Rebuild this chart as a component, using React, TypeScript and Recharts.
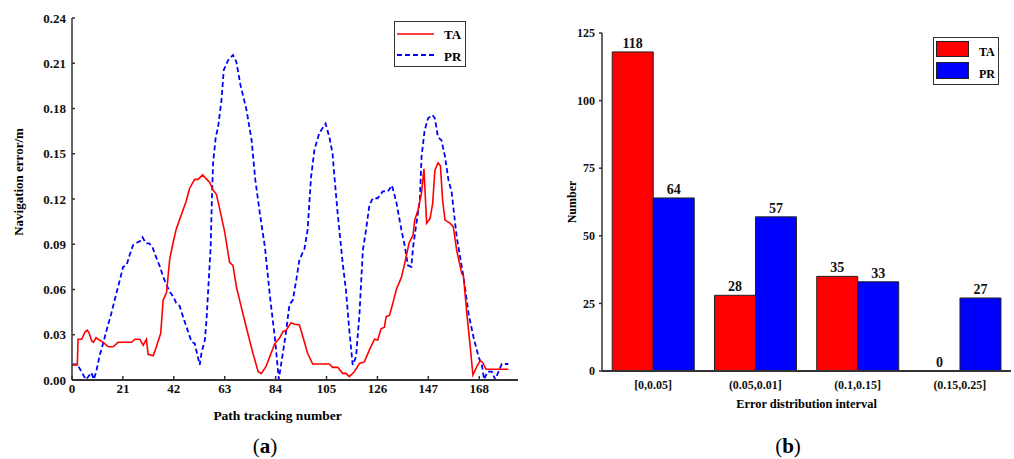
import React from 'react';
import { LineChart, Line, XAxis, YAxis, BarChart, Bar, LabelList } from 'recharts';

const taSteps = [0, 2.2, 2.5, 4, 5.4, 6.3, 7.1, 8.1, 8.8, 9.9, 10.8, 12.9, 15, 17, 19, 24.6, 26, 28, 29.4, 30, 30.7, 31.4, 33.5, 34.8, 36.6, 37.6, 39, 40.3, 41.7, 43, 45, 47, 48.5, 50.6, 52, 53.9, 56.8, 58.2, 59.6, 61, 63, 65, 66.4, 67.8, 69.9, 71.9, 74.6, 76.8, 78.1, 80, 81.5, 83.6, 85.7, 87, 88.4, 90.4, 91.8, 93.8, 95.2, 97.2, 99.3, 106.2, 107.5, 109.6, 111.7, 113, 114.4, 116.5, 118.6, 120.6, 122.7, 124.8, 126.1, 127.5, 128.9, 129.6, 131, 132.4, 133.8, 135.9, 137.2, 139.1, 140.7, 141.4, 142.8, 144.2, 145.2, 146.3, 147.7, 148.8, 149.7, 151, 152, 152.9, 153.9, 155.9, 157.3, 158.7, 160.8, 161.5, 162.9, 164.3, 165.4, 167, 168.4, 169.5, 170.8, 180];
const taError = [0.010, 0.010, 0.027, 0.027, 0.032, 0.033, 0.031, 0.026, 0.025, 0.028, 0.027, 0.025, 0.022, 0.022, 0.025, 0.025, 0.027, 0.027, 0.023, 0.025, 0.027, 0.017, 0.016, 0.022, 0.031, 0.053, 0.058, 0.080, 0.091, 0.100, 0.109, 0.118, 0.127, 0.133, 0.133, 0.136, 0.131, 0.126, 0.123, 0.113, 0.098, 0.078, 0.076, 0.062, 0.048, 0.035, 0.018, 0.0055, 0.0044, 0.0088, 0.015, 0.024, 0.028, 0.032, 0.033, 0.038, 0.037, 0.0365, 0.029, 0.0177, 0.0106, 0.0106, 0.0084, 0.0084, 0.0044, 0.0044, 0.0022, 0.0055, 0.011, 0.012, 0.020, 0.027, 0.0265, 0.034, 0.035, 0.042, 0.043, 0.051, 0.060, 0.068, 0.077, 0.091, 0.096, 0.106, 0.113, 0.124, 0.140, 0.104, 0.107, 0.117, 0.139, 0.144, 0.142, 0.119, 0.106, 0.104, 0.1017, 0.086, 0.0707, 0.069, 0.044, 0.022, 0.0033, 0.0088, 0.0128, 0.0115, 0.0071, 0.0071];

const prSteps = [0, 2.2, 3.9, 5.7, 6.6, 8, 9, 10, 11.3, 12.8, 14.1, 16.2, 18.3, 19.7, 21.1, 22.5, 23.8, 25.2, 26.6, 28, 29.1, 30.5, 31.9, 33.2, 34.9, 36.3, 37.6, 39, 40.3, 41.7, 43, 44.4, 45.8, 47.2, 49.3, 50.6, 52.7, 53.4, 54.8, 55.5, 56.2, 57.2, 57.7, 58.2, 59.3, 60.3, 61.7, 62.6, 64.4, 66.4, 67.8, 69.5, 72, 74.1, 75.6, 77.5, 79.6, 81.7, 83.8, 85.3, 87, 88.4, 89.7, 91.1, 92.5, 93.8, 95.9, 97.2, 98.6, 100, 102, 104.6, 106.2, 107.5, 108.2, 109.6, 111.7, 113, 114.4, 115.8, 117.2, 118.6, 120, 121.3, 122.7, 124.1, 126.1, 128.2, 130.3, 132, 133.8, 135.9, 137.2, 138.6, 140, 140.7, 142.1, 143.5, 144.2, 145.5, 146.9, 148.7, 149.7, 151, 152.4, 153.9, 155.3, 156.6, 158.7, 161.5, 163.6, 165.6, 167.7, 169.1, 170, 171.4, 173.2, 174.6, 176, 177.3, 180];
const prError = [0.0104, 0.0104, 0.0055, 0.0004, 0.002, 0.0049, 0.0004, 0.0055, 0.0155, 0.024, 0.032, 0.044, 0.0575, 0.066, 0.075, 0.076, 0.083, 0.0895, 0.091, 0.092, 0.0946, 0.0906, 0.0906, 0.088, 0.0806, 0.075, 0.0685, 0.063, 0.0585, 0.0555, 0.051, 0.049, 0.042, 0.0353, 0.0254, 0.0243, 0.010, 0.0177, 0.0265, 0.040, 0.060, 0.088, 0.119, 0.1437, 0.161, 0.168, 0.186, 0.2055, 0.212, 0.2155, 0.211, 0.1956, 0.179, 0.159, 0.133, 0.1105, 0.088, 0.055, 0.0265, 0.0005, 0.018, 0.033, 0.050, 0.053, 0.066, 0.0796, 0.087, 0.0995, 0.134, 0.1525, 0.1636, 0.170, 0.161, 0.150, 0.136, 0.1105, 0.077, 0.060, 0.033, 0.010, 0.0155, 0.044, 0.086, 0.0995, 0.116, 0.1205, 0.1205, 0.125, 0.125, 0.129, 0.118, 0.0995, 0.0895, 0.076, 0.075, 0.088, 0.104, 0.119, 0.148, 0.1657, 0.1735, 0.1757, 0.1735, 0.161, 0.159, 0.148, 0.1326, 0.125, 0.095, 0.0685, 0.044, 0.0287, 0.0155, 0.010, 0.0004, 0.0055, 0.0055, 0.0004, 0.0055, 0.0106, 0.0106];

const xTicks = [0, 21, 42, 63, 84, 105, 126, 147, 168];
const yTicks = [0, 0.03, 0.06, 0.09, 0.12, 0.15, 0.18, 0.21, 0.24];

const intervals = ['[0,0.05]', '(0.05,0.01]', '(0.1,0.15]', '(0.15,0.25]'];
const taCounts = [118, 28, 35, 0];
const prCounts = [64, 57, 33, 27];
const countTicks = [0, 25, 50, 75, 100, 125];

const taData = taSteps.map((s, i) => ({ step: s, value: taError[i] }));
const prData = prSteps.map((s, i) => ({ step: s, value: prError[i] }));
const barData = intervals.map((name, i) => ({ name, TA: taCounts[i], PR: prCounts[i] }));

const FONT = '"Liberation Serif", "Times New Roman", serif';
const AXIS = '#333';

const tickStyle = { fontFamily: FONT, fontWeight: 700, fontSize: 13, fill: '#111' };
const tickStyleB = { fontFamily: FONT, fontWeight: 700, fontSize: 12, fill: '#111' };

const abs = (o: React.CSSProperties): React.CSSProperties => ({ position: 'absolute', ...o });

const renderTopLabel = (props: any) => {
  const { x, y, width, value } = props;
  if (value === undefined || value === null) return null;
  return (
    <text
      x={Number(x) + Number(width) / 2}
      y={Number(y) - 4}
      textAnchor="middle"
      style={{ fontFamily: FONT, fontWeight: 700, fontSize: 14, fill: '#111' }}
    >
      {value}
    </text>
  );
};

const tinyForZero = (value: any) => (Number(value) === 0 ? 0.01 : 0);

export default function App() {
  return (
    <div style={{ position: 'absolute', left: 0, top: 0, width: 1014, height: 459, background: '#fff', fontFamily: FONT, overflow: 'hidden' }}>
      <div style={abs({ left: 0, top: 0 })}>
        <LineChart width={540} height={459} margin={{ top: 18, right: 22, bottom: 49, left: 12 }}>
          <XAxis
            dataKey="step"
            type="number"
            domain={[0, 184]}
            ticks={xTicks}
            allowDataOverflow
            height={30}
            tick={tickStyle}
            tickSize={-4}
            tickMargin={8}
            axisLine={{ stroke: AXIS, strokeWidth: 2 }}
            tickLine={{ stroke: AXIS, strokeWidth: 1.5 }}
          />
          <YAxis
            dataKey="value"
            type="number"
            domain={[0, 0.24]}
            ticks={yTicks}
            allowDataOverflow
            width={60}
            tick={tickStyle}
            tickFormatter={(v: number) => v.toFixed(2)}
            tickSize={-3}
            tickMargin={9}
            axisLine={{ stroke: AXIS, strokeWidth: 1.5 }}
            tickLine={{ stroke: AXIS, strokeWidth: 1.5 }}
          />
          <Line data={prData} dataKey="value" type="linear" stroke="#0000ff" strokeWidth={1.8} strokeDasharray="5 3" dot={false} isAnimationActive={false} />
          <Line data={taData} dataKey="value" type="linear" stroke="#ff0000" strokeWidth={1.6} dot={false} isAnimationActive={false} />
        </LineChart>
      </div>

      <div style={abs({ left: 540, top: 0 })}>
        <BarChart width={474} height={459} data={barData} margin={{ top: 33, right: 3, bottom: 58, left: 12 }} barCategoryGap="10%" barGap={0}>
          <YAxis
            type="number"
            domain={[0, 125]}
            ticks={countTicks}
            width={50}
            tick={tickStyleB}
            tickSize={3}
            tickMargin={4}
            axisLine={{ stroke: AXIS, strokeWidth: 1.5 }}
            tickLine={{ stroke: AXIS, strokeWidth: 1.5 }}
          />
          <Bar dataKey="TA" fill="#ff0000" stroke="#222" strokeWidth={1} minPointSize={tinyForZero} isAnimationActive={false}>
            <LabelList dataKey="TA" content={renderTopLabel} />
          </Bar>
          <Bar dataKey="PR" fill="#0000ff" stroke="#222" strokeWidth={1} isAnimationActive={false}>
            <LabelList dataKey="PR" content={renderTopLabel} />
          </Bar>
          <XAxis
            dataKey="name"
            height={30}
            tick={tickStyleB}
            tickLine={false}
            tickSize={0}
            tickMargin={9}
            axisLine={{ stroke: AXIS, strokeWidth: 2 }}
          />
        </BarChart>
      </div>

      {/* Left chart titles */}
      <div style={abs({ left: 19, top: 182, transform: 'translate(-50%, -50%) rotate(-90deg)', whiteSpace: 'nowrap', fontWeight: 700, fontSize: 13 })}>Navigation error/m</div>
      <div style={abs({ left: 277.5, top: 415.5, transform: 'translate(-50%, -50%)', whiteSpace: 'nowrap', fontWeight: 700, fontSize: 13.5 })}>Path tracking number</div>
      <div style={abs({ left: 265, top: 446, transform: 'translate(-50%, -50%)', whiteSpace: 'nowrap', fontSize: 21 })}>(<b>a</b>)</div>

      {/* Right chart titles */}
      <div style={abs({ left: 572, top: 202, transform: 'translate(-50%, -50%) rotate(-90deg)', whiteSpace: 'nowrap', fontWeight: 700, fontSize: 12 })}>Number</div>
      <div style={abs({ left: 806.5, top: 404, transform: 'translate(-50%, -50%)', whiteSpace: 'nowrap', fontWeight: 700, fontSize: 12.4 })}>Error distribution interval</div>
      <div style={abs({ left: 788, top: 446, transform: 'translate(-50%, -50%)', whiteSpace: 'nowrap', fontSize: 21 })}>(<b>b</b>)</div>

      {/* Left legend */}
      <div style={abs({ left: 394, top: 21, width: 70, height: 44, border: '1px solid #333', background: '#fff' })}>
        <svg width={40} height={44} style={{ position: 'absolute', left: 2, top: 0 }}>
          <line x1={0} y1={12} x2={37} y2={12} stroke="#ff0000" strokeWidth={1.6} />
          <line x1={0} y1={33} x2={37} y2={33} stroke="#0000ff" strokeWidth={1.8} strokeDasharray="5 3" />
        </svg>
        <div style={abs({ left: 49, top: 13, transform: 'translateY(-50%)', fontWeight: 700, fontSize: 13 })}>TA</div>
        <div style={abs({ left: 49, top: 35, transform: 'translateY(-50%)', fontWeight: 700, fontSize: 13 })}>PR</div>
      </div>

      {/* Right legend */}
      <div style={abs({ left: 933, top: 37, width: 64, height: 46, border: '1px solid #333', background: '#fff' })}>
        <div style={abs({ left: 2, top: 3, width: 33, height: 16, background: '#ff0000', border: '1px solid #222', boxSizing: 'border-box' })} />
        <div style={abs({ left: 2, top: 24, width: 33, height: 17, background: '#0000ff', border: '1px solid #222', boxSizing: 'border-box' })} />
        <div style={abs({ left: 45, top: 14, transform: 'translateY(-50%)', fontWeight: 700, fontSize: 12 })}>TA</div>
        <div style={abs({ left: 45, top: 35.5, transform: 'translateY(-50%)', fontWeight: 700, fontSize: 12 })}>PR</div>
      </div>
    </div>
  );
}
